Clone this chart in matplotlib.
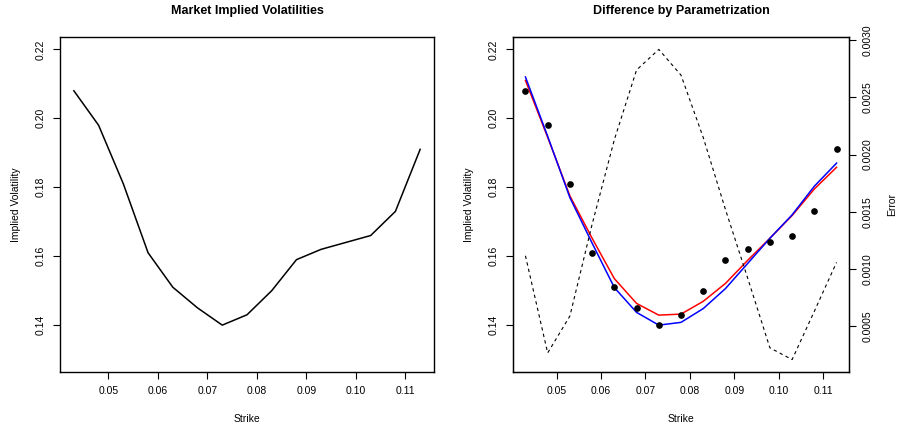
import numpy as np
import matplotlib
matplotlib.use("Agg")
import matplotlib.pyplot as plt

plt.rcParams["font.family"] = ["Liberation Sans", "DejaVu Sans"]
plt.rcParams["font.size"] = 7.5

# Data
strikes = [0.043, 0.048, 0.053, 0.058, 0.063, 0.068, 0.073, 0.078,
           0.083, 0.088, 0.093, 0.098, 0.103, 0.108, 0.113]
market_vol = [0.208, 0.198, 0.181, 0.161, 0.151, 0.145, 0.140, 0.143,
              0.150, 0.159, 0.162, 0.164, 0.166, 0.173, 0.191]
fit_red = [0.2110, 0.1945, 0.1775, 0.1652, 0.1535, 0.1463, 0.1429, 0.1432,
           0.1469, 0.1521, 0.1588, 0.1652, 0.1718, 0.1795, 0.1858]
fit_blue = [0.2120, 0.1948, 0.1770, 0.1638, 0.1509, 0.1437, 0.1400, 0.1408,
            0.1448, 0.1506, 0.1579, 0.1652, 0.1720, 0.1803, 0.1870]
error = [0.001115, 0.000265, 0.000588, 0.00139, 0.00213, 0.00274, 0.00292,
         0.002695, 0.00215, 0.00152, 0.00092, 0.00031, 0.000207, 0.00063,
         0.001057]

x_ticks = [0.05, 0.06, 0.07, 0.08, 0.09, 0.10, 0.11]
x_ticklabels = ["0.05", "0.06", "0.07", "0.08", "0.09", "0.10", "0.11"]
y_ticks = [0.14, 0.16, 0.18, 0.20, 0.22]
y_ticklabels = ["0.14", "0.16", "0.18", "0.20", "0.22"]
err_ticks = [0.0005, 0.0010, 0.0015, 0.0020, 0.0025, 0.0030]
err_ticklabels = ["0.0005", "0.0010", "0.0015", "0.0020", "0.0025", "0.0030"]

W, H = 899, 429
fig = plt.figure(figsize=(W / 100, H / 100), dpi=100)


def r_range(lo, hi):
    pad = (hi - lo) * 0.04
    return lo - pad, hi + pad


def style_axes(ax, title):
    ax.set_xlim(*r_range(min(strikes), max(strikes)))
    ax.set_ylim(*r_range(0.13, 0.22))
    ax.set_xticks(x_ticks)
    ax.set_xticklabels(x_ticklabels)
    ax.set_yticks(y_ticks)
    ax.set_yticklabels(y_ticklabels, rotation=90, va="center")
    ax.tick_params(length=5, width=0.8, pad=5, labelsize=7.5, colors="black")
    for s in ax.spines.values():
        s.set_linewidth(1.0)
    ax.set_xlabel("Strike", fontsize=7.5, labelpad=13)
    ax.set_ylabel("Implied Volatility", fontsize=7.5, labelpad=11)
    ax.text(0.5, 1 + 26 / 335, title, transform=ax.transAxes, ha="center",
            va="center", fontsize=9, fontweight="bold")


# Left panel
ax1 = fig.add_axes([60 / W, 1 - 372 / H, 374 / W, 335 / H])
ax1.plot(strikes, market_vol, color="black", lw=1.1)
style_axes(ax1, "Market Implied Volatilities")

# Right panel
ax2 = fig.add_axes([513 / W, 1 - 372 / H, 336 / W, 335 / H])
ax2.plot(strikes, market_vol, "o", color="black", ms=3.8, zorder=3)
ax2.plot(strikes, fit_red, color="red", lw=1.1)
ax2.plot(strikes, fit_blue, color="blue", lw=1.1)
style_axes(ax2, "Difference by Parametrization")

ax3 = ax2.twinx()
ax3.plot(strikes, error, color="black", lw=0.8, linestyle=(0, (3, 3)))
ax3.set_ylim(*r_range(min(error), max(error)))
ax3.set_yticks(err_ticks)
ax3.set_yticklabels(err_ticklabels, rotation=90, va="center")
ax3.tick_params(length=5, width=0.8, pad=5, labelsize=7.5, colors="black")
ax3.set_ylabel("Error", fontsize=7.5, rotation=90, labelpad=10)

fig.savefig("out.png", dpi=100)
